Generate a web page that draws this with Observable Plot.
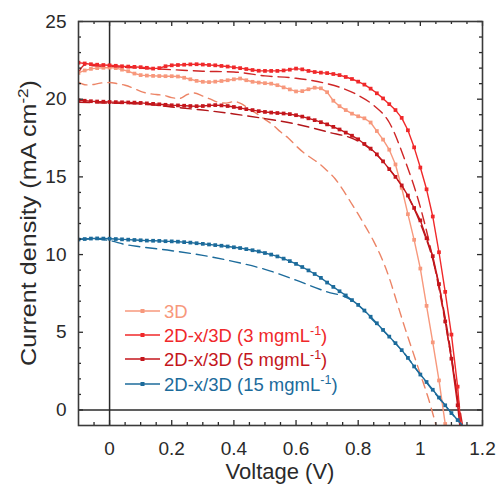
<!DOCTYPE html>
<html><head><meta charset="utf-8">
<script src="https://cdn.jsdelivr.net/npm/d3@7"></script>
<script src="https://cdn.jsdelivr.net/npm/@observablehq/plot@0.6"></script>
<style>
html,body{margin:0;padding:0;background:#fff;}
#chart{width:497px;height:484px;}
</style></head><body><div id="chart"></div>
<script>
// ---- data ----
const voltage = [-0.10,-0.08,-0.06,-0.04,-0.02,0.00,0.02,0.04,0.06,0.08,0.10,0.12,0.14,0.16,0.18,0.20,0.22,0.24,0.26,0.28,0.30,0.32,0.34,0.36,0.38,0.40,0.42,0.44,0.46,0.48,0.50,0.52,0.54,0.56,0.58,0.60,0.62,0.64,0.66,0.68,0.70,0.72,0.74,0.76,0.78,0.80,0.82,0.84,0.86,0.88,0.90,0.92,0.94,0.96,0.98,1.00,1.02,1.04,1.06,1.08,1.10,1.12,1.14];

const j3D = [21.69,21.85,21.95,22.0,22.02,22.03,22.0,21.9,21.8,21.65,21.55,21.52,21.5,21.49,21.48,21.48,21.46,21.38,21.28,21.18,21.12,21.1,21.13,21.17,21.22,21.28,21.33,21.22,21.12,21.07,21.03,21.0,20.9,20.76,20.63,20.5,20.52,20.64,20.74,20.7,20.45,19.9,19.55,19.3,19.07,18.9,18.77,18.5,17.95,17.4,16.75,15.8,14.3,12.6,10.95,9.1,6.7,4.35,1.9,-0.9];
const j3mg = [22.35,22.3,22.25,22.22,22.2,22.18,22.15,22.12,22.1,22.08,22.06,22.02,21.97,22.0,22.12,22.18,22.2,22.22,22.24,22.25,22.23,22.2,22.18,22.14,22.1,22.05,22.0,21.94,21.88,21.83,21.82,21.82,21.82,21.85,21.9,21.97,21.92,21.82,21.75,21.71,21.68,21.62,21.55,21.43,21.3,21.13,20.94,20.68,20.38,20.05,19.68,19.3,18.8,18.0,16.9,15.6,14.2,12.45,10.15,7.6,4.85,1.5,-3.5];
const j5mg = [19.93,19.9,19.87,19.85,19.84,19.82,19.81,19.8,19.79,19.78,19.76,19.73,19.7,19.67,19.64,19.61,19.6,19.58,19.56,19.55,19.56,19.6,19.62,19.6,19.56,19.5,19.43,19.36,19.3,19.23,19.18,19.14,19.11,19.08,19.04,18.97,18.88,18.77,18.65,18.52,18.38,18.22,18.05,17.85,17.65,17.42,17.12,16.82,16.45,16.0,15.5,15.0,14.45,13.8,13.0,12.2,11.05,9.9,8.1,5.7,3.3,0.3,-3.5];
const j15mg = [10.97,11.0,11.03,11.04,11.03,11.02,11.0,10.98,10.96,10.94,10.92,10.9,10.89,10.88,10.86,10.85,10.83,10.8,10.77,10.73,10.69,10.65,10.61,10.57,10.52,10.47,10.42,10.35,10.28,10.2,10.1,10.0,9.88,9.74,9.58,9.4,9.2,8.98,8.75,8.5,8.2,7.92,7.64,7.37,7.07,6.76,6.4,6.0,5.58,5.15,4.72,4.3,3.85,3.35,2.8,2.28,1.8,1.3,0.8,0.3,-0.2,-0.65,-1.1];

// dashed (second scan) curves
const v3Dd = [-0.1,-0.075,-0.05,-0.025,0,0.025,0.05,0.075,0.1,0.125,0.15,0.175,0.2,0.225,0.25,0.27,0.3,0.325,0.35,0.375,0.4,0.425,0.45,0.475,0.5,0.525,0.55,0.575,0.6,0.625,0.65,0.675,0.7,0.725,0.75,0.775,0.8,0.825,0.85,0.875,0.9,0.925,0.95,0.975,1.0,1.025,1.05];
const j3Dd = [21.1,20.92,20.95,21.05,21.07,21.0,20.9,20.72,20.5,20.37,20.3,20.25,20.1,20.05,20.3,20.4,20.2,20.0,19.8,19.75,19.85,19.7,19.35,19.05,18.7,18.35,17.9,17.5,17.0,16.55,16.2,15.85,15.4,14.9,14.2,13.4,12.6,11.75,10.85,9.8,8.5,6.9,5.3,3.8,2.3,0.8,-0.95];
const v3mgd = [-0.1,-0.08,-0.05,0,0.1,0.2,0.3,0.4,0.5,0.6,0.7,0.75,0.8,0.85,0.9,0.95,1.0,1.025,1.05,1.075,1.1,1.125,1.14];
const j3mgd = [21.7,22.2,22.15,22.1,22.0,21.9,21.8,21.75,21.5,21.35,21.0,20.7,20.25,19.6,18.5,16.1,13.05,11.1,8.8,6.2,3.3,0.3,-1.5];
const v5mgd = [-0.1,0,0.1,0.2,0.3,0.4,0.5,0.6,0.7,0.8,0.85,0.9,0.95,1.0,1.05,1.1,1.125,1.14];
const j5mgd = [19.8,19.75,19.7,19.5,19.3,19.05,18.75,18.4,17.9,17.3,16.6,15.5,14.1,12.0,8.9,3.5,0.0,-2.0];
const v15mgd = [-0.1,-0.05,0,0.05,0.1,0.2,0.3,0.4,0.5,0.6,0.7,0.77,0.8,0.85,0.9,0.95,1.0,1.05,1.1,1.14];
const j15mgd = [11.0,11.0,10.9,10.65,10.5,10.25,9.95,9.55,9.05,8.35,7.6,7.17,6.76,5.72,4.7,3.6,2.27,1.0,-0.2,-1.1];

const seriesNames = ["3D","2D-x/3D (3 mgmL","2D-x/3D (5 mgmL","2D-x/3D (15 mgmL"];
const seriesColors = ["#f7987c","#f0282a","#c4161c","#1c6b9b"];
const dashedColors = ["#ec8466","#cf2626","#b3161a","#1c6b9b"];

const xMajor = [0,0.2,0.4,0.6,0.8,1,1.2];
const xMinor = [-0.05,0.05,0.1,0.15,0.25,0.3,0.35,0.45,0.5,0.55,0.65,0.7,0.75,0.85,0.9,0.95,1.05,1.1,1.15];
const yMajor = [0,5,10,15,20,25];
const yMinor = [1,2,3,4,6,7,8,9,11,12,13,14,16,17,18,19,21,22,23,24];

// ---- build tables ----
const solidJ = [j3D, j3mg, j5mg, j15mg];
const dashV = [v3Dd, v3mgd, v5mgd, v15mgd];
const dashJ = [j3Dd, j3mgd, j5mgd, j15mgd];
const solidRows = solidJ.map(js => js.map((j,i) => ({v: voltage[i], j})));
const dashRows = dashJ.map((js,k) => js.map((j,i) => ({v: dashV[k][i], j})));

const W = 497, H = 484, mL = 78, mR = 15, mT = 21, mB = 59;
const innerW = W - mL - mR, innerH = H - mT - mB;
const font = "'Liberation Sans', Arial, Helvetica, sans-serif";
const ink = "#2a2a2a";

const marks = [];
dashRows.forEach((rows,k) => {
  marks.push(Plot.line(rows, {x:"v", y:"j", stroke: dashedColors[k], strokeWidth: 1.4,
    strokeDasharray: k === 0 ? "9,6" : "11,6", clip: true, curve: "monotone-x"}));
});
solidRows.forEach((rows,k) => {
  marks.push(Plot.line(rows, {x:"v", y:"j", stroke: seriesColors[k], strokeWidth: 1.4, clip: true}));
  marks.push(Plot.dot(rows, {x:"v", y:"j", symbol:"square", r: 2.1, fill: seriesColors[k], stroke: "none", clip: true}));
});

const plot = Plot.plot({
  width: W, height: H,
  marginLeft: mL, marginRight: mR, marginTop: mT, marginBottom: mB,
  style: {fontFamily: font, fontSize: "19px", color: ink, background: "#fff"},
  x: {domain: [-0.1, 1.2]},
  y: {domain: [-1, 25]},
  marks: [
    Plot.ruleX([0], {stroke: ink, strokeWidth: 1.5}),
    Plot.ruleY([0], {stroke: ink, strokeWidth: 1.5}),
    ...marks,
    Plot.tickX(xMajor, {x: d => d, insetTop: innerH - 5, stroke: ink, strokeWidth: 1.3}),
    Plot.tickX(xMinor, {x: d => d, insetTop: innerH - 3, stroke: ink, strokeWidth: 1.3}),
    Plot.tickX(xMajor, {x: d => d, insetBottom: innerH - 5, stroke: ink, strokeWidth: 1.3}),
    Plot.tickX(xMinor, {x: d => d, insetBottom: innerH - 3, stroke: ink, strokeWidth: 1.3}),
    Plot.tickY(yMajor, {y: d => d, insetRight: innerW - 5, stroke: ink, strokeWidth: 1.3}),
    Plot.tickY(yMinor, {y: d => d, insetRight: innerW - 3, stroke: ink, strokeWidth: 1.3}),
    Plot.tickY(yMajor, {y: d => d, insetLeft: innerW - 5, stroke: ink, strokeWidth: 1.3}),
    Plot.tickY(yMinor, {y: d => d, insetLeft: innerW - 3, stroke: ink, strokeWidth: 1.3}),
    Plot.axisX(xMajor, {tickSize: 0, tickPadding: 16, fontSize: 19, label: null, fill: ink,
      tickFormat: d => String(+d.toFixed(1))}),
    Plot.axisY(yMajor, {tickSize: 0, tickPadding: 12, fontSize: 19, label: null, fill: ink}),
    Plot.frame({stroke: "#3a3a3a", strokeWidth: 1.6})
  ]
});
document.getElementById("chart").appendChild(plot);

// ---- axis titles and legend (SVG text with superscripts) ----
const svg = d3.select(plot);
svg.append("text").attr("x", mL + innerW/2).attr("y", 479)
  .attr("text-anchor","middle").attr("font-family", font).attr("font-size", 22).attr("fill", ink)
  .text("Voltage (V)");

const yT = svg.append("text").attr("transform", "translate(36," + (mT + innerH/2) + ") rotate(-90)")
  .attr("text-anchor","middle").attr("font-family", font).attr("font-size", 22).attr("fill", ink)
  .attr("textLength", 286).attr("lengthAdjust", "spacingAndGlyphs");
yT.append("tspan").text("Current density (mA cm");
yT.append("tspan").attr("dy", -8).attr("font-size", 15).text("-2");
yT.append("tspan").attr("dy", 8).text(")");

const legY = [311, 335, 359, 384];
seriesNames.forEach((name,k) => {
  const g = svg.append("g").attr("transform", "translate(0," + legY[k] + ")");
  g.append("line").attr("x1",125).attr("x2",160).attr("y1",0).attr("y2",0)
    .attr("stroke", seriesColors[k]).attr("stroke-width",1.4);
  g.append("rect").attr("x",140.5).attr("y",-2).attr("width",4).attr("height",4).attr("fill", seriesColors[k]);
  const t = g.append("text").attr("x",164).attr("y",6.5).attr("text-anchor","start").attr("font-family", font)
    .attr("font-size", 18.5).attr("fill", seriesColors[k]);
  t.append("tspan").text(name);
  if (k > 0) {
    t.append("tspan").attr("dy",-7).attr("font-size",12.5).text("-1");
    t.append("tspan").attr("dy",7).text(")");
  }
});
</script></body></html>
